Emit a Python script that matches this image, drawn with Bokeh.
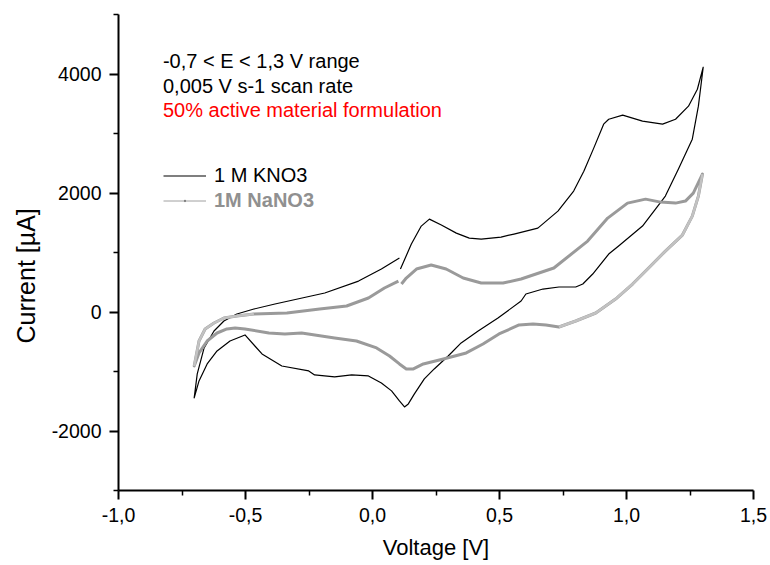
import math
from bokeh.plotting import figure
from bokeh.models import (Legend, LegendItem, FixedTicker, CustomJSTickFormatter, Range1d, Title, Label)
from bokeh.embed import file_html
from bokeh.resources import INLINE

# ---- data ----
kno3_v = [0.110, 0.153, 0.192, 0.224, 0.271, 0.330, 0.381, 0.428, 0.506, 0.557, 0.651, 0.730,
          0.792, 0.832, 0.871, 0.910, 0.930, 0.985, 1.063, 1.142, 1.193, 1.244, 1.279, 1.302,
          1.283, 1.259, 1.204, 1.153, 1.063, 0.969, 0.930, 0.867, 0.828, 0.800, 0.734, 0.671,
          0.604, 0.585, 0.494, 0.416, 0.349, 0.298, 0.243, 0.204, 0.165, 0.141, 0.126, 0.106,
          0.075, 0.035, -0.016, -0.082, -0.149, -0.228, -0.251, -0.357, -0.435, -0.502, -0.561,
          -0.612, -0.651, -0.683, -0.702,
          -0.690, -0.663, -0.624, -0.585, -0.534, -0.467, -0.384, -0.188, -0.055, 0.035, 0.106]
kno3_i = [722, 1142, 1444, 1561, 1461, 1326, 1242, 1226, 1259, 1310, 1410, 1696,
          2032, 2367, 2754, 3157, 3240, 3308, 3207, 3157, 3240, 3459, 3744, 4114,
          3459, 2905, 2401, 1948, 1444, 1108, 974, 638, 470, 420, 420, 386,
          302, 185, -101, -319, -520, -739, -957, -1125, -1377, -1545, -1595, -1494,
          -1326, -1192, -1075, -1058, -1091, -1058, -991, -907, -705, -386, -487,
          -655, -873, -1159, -1444,
          -1041, -604, -319, -151, -34, 50, 134, 319, 520, 722, 907]

nano3_v = [0.114, 0.133, 0.173, 0.231, 0.290, 0.357, 0.428, 0.514, 0.585, 0.714,
           0.847, 0.926, 1.004, 1.075, 1.134, 1.193, 1.232, 1.263, 1.299,
           1.283, 1.259, 1.220, 1.153, 1.087, 1.024, 0.957, 0.879, 0.800, 0.734,
           0.683, 0.632, 0.577, 0.498, 0.435, 0.369, 0.279, 0.200, 0.161, 0.133,
           0.106, 0.067, 0.016, -0.063, -0.149, -0.279, -0.345, -0.408, -0.502, -0.541,
           -0.573, -0.612, -0.651, -0.683, -0.702,
           -0.683, -0.659, -0.624, -0.585, -0.534, -0.467, -0.337, -0.208, -0.102, -0.016, 0.047, 0.102]
nano3_i = [470, 571, 722, 789, 722, 571, 487, 487, 554, 739,
           1192, 1578, 1830, 1897, 1847, 1830, 1864, 1998, 2317,
           1948, 1612, 1293, 1024, 739, 470, 218, -17, -151, -252,
           -218, -201, -218, -369, -537, -688, -789, -873, -957, -957,
           -873, -739, -604, -487, -437, -353, -369, -353, -285, -269,
           -285, -353, -487, -688, -907,
           -487, -285, -185, -101, -67, -34, -17, 50, 101, 235, 403, 520]

x_ticks = [-1.0, -0.5, 0.0, 0.5, 1.0, 1.5]
x_minor = [-0.75, -0.25, 0.25, 0.75, 1.25]
y_ticks = [-2000, 0, 2000, 4000]
y_minor = [-3000, -1000, 1000, 3000, 5000]

notes = ["-0,7 < E < 1,3 V range", "0,005 V s-1 scan rate", "50% active material formulation"]
note_colors = ["black", "black", "#ff0000"]
series_names = ["1 M KNO3", "1M NaNO3"]
x_title = "Voltage [V]"
y_title = "Current [µA]"

FONT = "Liberation Sans"

p = figure(width=770, height=565, x_range=Range1d(-1.0, 1.5), y_range=Range1d(-3000, 5000),
           output_backend="svg", toolbar_location=None,
           min_border_left=117, min_border_right=17, min_border_top=14, min_border_bottom=75)
p.xgrid.visible = False
p.ygrid.visible = False
p.outline_line_color = None
p.background_fill_color = "white"
p.border_fill_color = "white"

for ax in (p.xaxis[0], p.yaxis[0]):
    ax.axis_line_width = 2
    ax.major_tick_line_width = 2
    ax.minor_tick_line_width = 1.5
    ax.major_tick_out = 9
    ax.major_tick_in = 0
    ax.minor_tick_out = 5
    ax.minor_tick_in = 0
    ax.major_label_text_font = FONT
    ax.major_label_text_font_size = "19.5px"
    ax.major_label_text_color = "black"
    ax.major_label_standoff = 8

p.xaxis.ticker = FixedTicker(ticks=x_ticks, minor_ticks=x_minor)
p.yaxis.ticker = FixedTicker(ticks=y_ticks, minor_ticks=y_minor)
p.xaxis.formatter = CustomJSTickFormatter(code="return tick.toFixed(1).replace('.', ',');")
p.yaxis.formatter = CustomJSTickFormatter(code="return tick.toFixed(0);")

p.xaxis.axis_label = x_title
p.xaxis.axis_label_text_font = FONT
p.xaxis.axis_label_text_font_size = "22px"
p.xaxis.axis_label_text_font_style = "normal"
p.xaxis.axis_label_text_color = "black"
p.xaxis.axis_label_standoff = 10

ytitle = Title(text=y_title, align="left", offset=147, standoff=18, text_font=FONT,
               text_font_size="25px", text_font_style="normal", text_color="black")
p.add_layout(ytitle, "left")

# curves
kno3_r = p.line(kno3_v, kno3_i, line_color="black", line_width=1.2, line_join="round")
p.line(nano3_v, nano3_i, line_color="#9a9a9a", line_width=3, line_join="round")
p.line(nano3_v[18:29], nano3_i[18:29], line_color="#c2c2c2", line_width=2.5, line_join="round")
p.line(nano3_v[53:60], nano3_i[53:60], line_color="#c2c2c2", line_width=2.5, line_join="round")

# legend sample renderers for NaNO3 (thin line with small dot); NaN so nothing is drawn in the plot
leg_line = p.line([math.nan], [math.nan], line_color="#a0a0a0", line_width=1)
leg_mark = p.scatter([math.nan], [math.nan], marker="dot", size=4, color="#808080")

leg_common = dict(glyph_width=43, glyph_height=23, label_height=23, label_standoff=8,
                  padding=0, margin=0, spacing=0, border_line_alpha=0,
                  background_fill_alpha=0, label_text_font=FONT, label_text_font_size="20px")
leg1 = Legend(items=[LegendItem(label=series_names[0], renderers=[kno3_r])],
              location=(45, 302.8), label_text_color="black", **leg_common)
leg2 = Legend(items=[LegendItem(label=series_names[1], renderers=[leg_line, leg_mark])],
              location=(45, 277.8), label_text_color="#909090", label_text_font_style="bold",
              **leg_common)
p.add_layout(leg1)
p.add_layout(leg2)

# annotation text
note_y = [4214, 3795, 3387]
for t, c, yy in zip(notes, note_colors, note_y):
    p.add_layout(Label(x=-0.825, y=yy, text=t, text_color=c, text_font=FONT,
                       text_font_size="20px", text_baseline="alphabetic", text_align="left"))

open("out.html", "w").write(file_html(p, INLINE))
